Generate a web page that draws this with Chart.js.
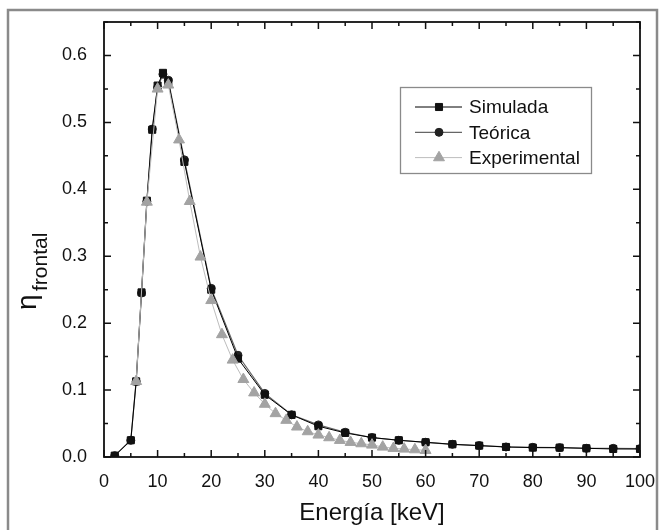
<!DOCTYPE html>
<html>
<head>
<meta charset="utf-8">
<script src="https://cdn.jsdelivr.net/npm/chart.js@4.4.1/dist/chart.umd.min.js"></script>
<style>
html, body { margin: 0; padding: 0; background: #fff; }
</style>
</head>
<body>
<canvas id="chart" width="665" height="530"></canvas>
<script>
// Eficiencia frontal vs. energía: simulada, teórica y experimental.
const FONT = '"Liberation Sans", Arial, Helvetica, sans-serif';

const simX = [2, 5, 6, 7, 8, 9, 10, 11, 12, 15, 20, 25, 30, 35, 40, 45, 50, 55, 60, 65, 70, 75, 80, 85, 90, 95, 100];
const simY = [0.002, 0.025, 0.113, 0.246, 0.383, 0.489, 0.555, 0.574, 0.561, 0.441, 0.250, 0.147, 0.093, 0.063, 0.046, 0.036, 0.029, 0.025, 0.022, 0.019, 0.017, 0.015, 0.014, 0.014, 0.013, 0.012, 0.012];

const teoX = [2, 5, 6, 7, 8, 9, 10, 11, 12, 15, 20, 25, 30, 35, 40, 45, 50, 55, 60, 65, 70, 75, 80, 85, 90, 95, 100];
const teoY = [0.002, 0.025, 0.113, 0.245, 0.382, 0.490, 0.552, 0.572, 0.563, 0.444, 0.252, 0.152, 0.095, 0.063, 0.048, 0.037, 0.029, 0.025, 0.022, 0.019, 0.017, 0.015, 0.0145, 0.014, 0.013, 0.013, 0.0125];

const expX = [6, 8, 10, 12, 14, 16, 18, 20, 22, 24, 26, 28, 30, 32, 34, 36, 38, 40, 42, 44, 46, 48, 50, 52, 54, 56, 58, 60];
const expY = [0.113, 0.381, 0.550, 0.556, 0.474, 0.382, 0.299, 0.234, 0.183, 0.145, 0.116, 0.096, 0.079, 0.065, 0.055, 0.045, 0.038, 0.033, 0.029, 0.025, 0.022, 0.020, 0.018, 0.015, 0.013, 0.012, 0.011, 0.010];

const pts = (xs, ys) => xs.map((x, i) => ({ x, y: ys[i] }));

// Marco gris exterior y fondo blanco
const frame = {
    id: 'frame',
    beforeDraw(chart) {
        const { ctx, width, height } = chart;
        ctx.save();
        ctx.fillStyle = '#fff';
        ctx.fillRect(0, 0, width, height);
        ctx.strokeStyle = '#8a8a8a';
        ctx.lineWidth = 2.5;
        ctx.strokeRect(8, 10, 649, height + 20);
        ctx.restore();
    },
};

// Marcas hacia dentro en los cuatro lados + borde del área
const innerTicks = {
    id: 'innerTicks',
    afterDatasetsDraw(chart) {
        const { ctx, chartArea: a, scales: { x, y } } = chart;
        ctx.save();
        ctx.strokeStyle = '#111';
        ctx.lineWidth = 1.5;
        ctx.beginPath();
        x.ticks.forEach((t) => {
            const px = x.getPixelForValue(t.value);
            const len = t.label !== '' ? 7 : 4;
            ctx.moveTo(px, a.bottom); ctx.lineTo(px, a.bottom - len);
            ctx.moveTo(px, a.top); ctx.lineTo(px, a.top + len);
        });
        y.ticks.forEach((t) => {
            const py = y.getPixelForValue(t.value);
            const len = t.label !== '' ? 7 : 4;
            ctx.moveTo(a.left, py); ctx.lineTo(a.left + len, py);
            ctx.moveTo(a.right, py); ctx.lineTo(a.right - len, py);
        });
        ctx.stroke();
        ctx.lineWidth = 1.8;
        ctx.strokeRect(a.left, a.top, a.right - a.left, a.bottom - a.top);
        ctx.restore();
    },
};

function marker(ctx, style, r, cx, cy) {
    ctx.beginPath();
    if (style === 'rect') {
        const s = r * Math.SQRT1_2;
        ctx.rect(cx - s, cy - s, 2 * s, 2 * s);
    } else if (style === 'circle') {
        ctx.arc(cx, cy, r, 0, Math.PI * 2);
    } else {
        ctx.moveTo(cx, cy - r);
        ctx.lineTo(cx + r * Math.sin(Math.PI / 3), cy + r / 2);
        ctx.lineTo(cx - r * Math.sin(Math.PI / 3), cy + r / 2);
        ctx.closePath();
    }
    ctx.fill();
    ctx.stroke();
}

// Leyenda dentro del área y título del eje Y con subíndice
const extras = {
    id: 'extras',
    afterDraw(chart) {
        const { ctx } = chart;
        ctx.save();
        ctx.strokeStyle = '#8a8a8a';
        ctx.lineWidth = 1.3;
        ctx.strokeRect(400.5, 87.5, 191, 86);
        chart.data.datasets.forEach((ds, i) => {
            const yy = 107 + i * 25.3;
            ctx.strokeStyle = ds.borderColor;
            ctx.lineWidth = ds.borderWidth;
            ctx.beginPath();
            ctx.moveTo(415, yy);
            ctx.lineTo(462, yy);
            ctx.stroke();
            ctx.fillStyle = ds.pointBackgroundColor;
            ctx.strokeStyle = ds.pointBorderColor;
            ctx.lineWidth = 1;
            marker(ctx, ds.pointStyle, ds.pointRadius, 439, yy);
            ctx.fillStyle = '#111';
            ctx.font = `19px ${FONT}`;
            ctx.textBaseline = 'middle';
            ctx.textAlign = 'left';
            ctx.fillText(ds.label, 469, yy + 1);
        });

        ctx.translate(36, 310);
        ctx.rotate(-Math.PI / 2);
        ctx.fillStyle = '#111';
        ctx.textBaseline = 'alphabetic';
        ctx.font = `28px ${FONT}`;
        ctx.fillText('η', 0, 0);
        ctx.font = `21px ${FONT}`;
        ctx.fillText('frontal', 19, 11);
        ctx.restore();
    },
};

new Chart(document.getElementById('chart'), {
    type: 'line',
    data: {
        datasets: [
            {
                label: 'Simulada',
                data: pts(simX, simY),
                order: 1,
                borderColor: '#000',
                borderWidth: 1,
                pointStyle: 'rect',
                pointRadius: 5,
                pointBackgroundColor: '#111',
                pointBorderColor: '#111',
                pointBorderWidth: 1,
                tension: 0,
            },
            {
                label: 'Teórica',
                data: pts(teoX, teoY),
                order: 2,
                borderColor: '#666',
                borderWidth: 1.2,
                pointStyle: 'circle',
                pointRadius: 4,
                pointBackgroundColor: '#222',
                pointBorderColor: '#222',
                pointBorderWidth: 1,
                tension: 0,
            },
            {
                label: 'Experimental',
                data: pts(expX, expY),
                order: 0,
                borderColor: '#bdbdbd',
                borderWidth: 1,
                pointStyle: 'triangle',
                pointRadius: 6.3,
                pointBackgroundColor: '#a3a3a3',
                pointBorderColor: '#a3a3a3',
                pointBorderWidth: 1,
                tension: 0,
            },
        ],
    },
    options: {
        responsive: false,
        animation: false,
        events: [],
        layout: { padding: { left: 0, right: 25, top: 22, bottom: 0 } },
        plugins: { legend: { display: false }, tooltip: { enabled: false } },
        scales: {
            x: {
                type: 'linear',
                min: 0,
                max: 100,
                grid: { display: false },
                border: { display: false },
                ticks: {
                    stepSize: 5,
                    autoSkip: false,
                    maxRotation: 0,
                    padding: 6,
                    color: '#111',
                    font: { family: FONT, size: 18 },
                    callback: (v) => (v % 10 === 0 ? String(v) : ''),
                },
                title: {
                    display: true,
                    text: 'Energía [keV]',
                    color: '#111',
                    font: { family: FONT, size: 24 },
                    padding: { top: 0, bottom: 2 },
                },
                afterFit: (s) => { s.height = 73; },
            },
            y: {
                min: 0,
                max: 0.65,
                grid: { display: false },
                border: { display: false },
                ticks: {
                    stepSize: 0.05,
                    autoSkip: false,
                    padding: 9,
                    color: '#111',
                    font: { family: FONT, size: 18 },
                    callback: (v) => {
                        const k = Math.round(v * 100);
                        return k % 10 === 0 && k <= 60 ? (k / 100).toFixed(1) : '';
                    },
                },
                afterFit: (s) => { s.width = 104; },
            },
        },
    },
    plugins: [frame, innerTicks, extras],
});
</script>
</body>
</html>
